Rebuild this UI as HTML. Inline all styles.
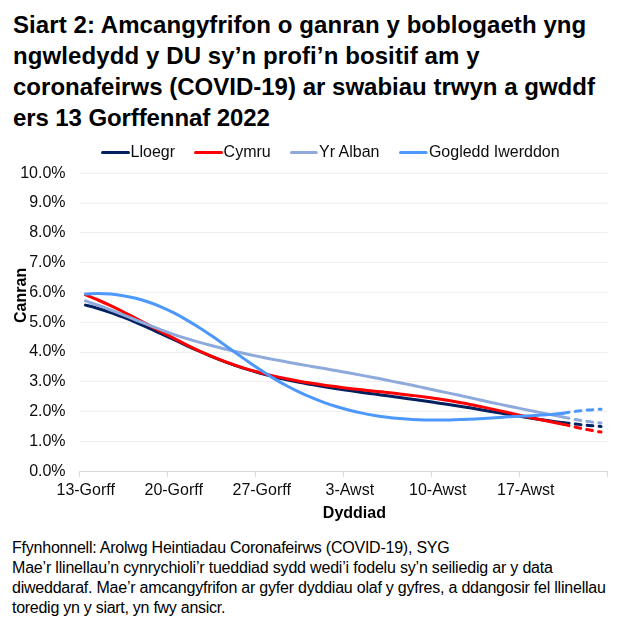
<!DOCTYPE html>
<html><head><meta charset="utf-8"><style>
html,body{margin:0;padding:0;background:#fff;width:623px;height:630px;overflow:hidden}
svg{display:block;position:absolute;left:0;top:0}
.ov{will-change:transform}
text{font-family:"Liberation Sans",sans-serif;fill:#000}
.ti{font-size:24px;font-weight:bold}
.ax{font-size:16px;fill:#0d0d0d}
.axb{font-size:16px;font-weight:bold}
.ft{font-size:16px}
</style></head><body>
<svg width="623" height="630" viewBox="0 0 623 630">
<rect width="623" height="630" fill="#fff"/>
<line x1="79.5" y1="441.5" x2="607.5" y2="441.5" stroke="#EDEDED" stroke-width="1"/>
<line x1="79.5" y1="411.3" x2="607.5" y2="411.3" stroke="#EDEDED" stroke-width="1"/>
<line x1="79.5" y1="381.4" x2="607.5" y2="381.4" stroke="#EDEDED" stroke-width="1"/>
<line x1="79.5" y1="352.4" x2="607.5" y2="352.4" stroke="#EDEDED" stroke-width="1"/>
<line x1="79.5" y1="322.4" x2="607.5" y2="322.4" stroke="#EDEDED" stroke-width="1"/>
<line x1="79.5" y1="292.3" x2="607.5" y2="292.3" stroke="#EDEDED" stroke-width="1"/>
<line x1="79.5" y1="262.3" x2="607.5" y2="262.3" stroke="#EDEDED" stroke-width="1"/>
<line x1="79.5" y1="232.4" x2="607.5" y2="232.4" stroke="#EDEDED" stroke-width="1"/>
<line x1="79.5" y1="203.3" x2="607.5" y2="203.3" stroke="#EDEDED" stroke-width="1"/>
<line x1="79.5" y1="173.3" x2="607.5" y2="173.3" stroke="#EDEDED" stroke-width="1"/>
<line x1="79.5" y1="471.5" x2="607.5" y2="471.5" stroke="#D9D9D9" stroke-width="1"/>
<line x1="79.5" y1="471.5" x2="79.5" y2="476.8" stroke="#D9D9D9" stroke-width="1"/>
<line x1="167.5" y1="471.5" x2="167.5" y2="476.8" stroke="#D9D9D9" stroke-width="1"/>
<line x1="255.5" y1="471.5" x2="255.5" y2="476.8" stroke="#D9D9D9" stroke-width="1"/>
<line x1="343.5" y1="471.5" x2="343.5" y2="476.8" stroke="#D9D9D9" stroke-width="1"/>
<line x1="431.5" y1="471.5" x2="431.5" y2="476.8" stroke="#D9D9D9" stroke-width="1"/>
<line x1="519.5" y1="471.5" x2="519.5" y2="476.8" stroke="#D9D9D9" stroke-width="1"/>
<line x1="607.5" y1="471.5" x2="607.5" y2="476.8" stroke="#D9D9D9" stroke-width="1"/>
<line x1="102.5" y1="152.5" x2="128.5" y2="152.5" stroke="#002060" stroke-width="3" stroke-linecap="round"/>
<line x1="195.5" y1="152.5" x2="221.5" y2="152.5" stroke="#FF0000" stroke-width="3" stroke-linecap="round"/>
<line x1="291.5" y1="152.5" x2="316.2" y2="152.5" stroke="#8EA9DB" stroke-width="3" stroke-linecap="round"/>
<line x1="400.5" y1="152.5" x2="426.1" y2="152.5" stroke="#4C98FC" stroke-width="3" stroke-linecap="round"/>
<path d="M85.49,305.10 C87.58,305.67 93.87,307.27 98.06,308.50 C102.25,309.73 106.44,311.05 110.64,312.50 C114.83,313.95 119.02,315.57 123.21,317.20 C127.40,318.83 131.59,320.53 135.78,322.30 C139.97,324.07 144.17,325.92 148.36,327.80 C152.55,329.68 156.74,331.67 160.93,333.60 C165.12,335.53 169.31,337.45 173.50,339.40 C177.70,341.35 181.89,343.37 186.08,345.30 C190.27,347.23 194.46,349.15 198.65,351.00 C202.84,352.85 207.04,354.67 211.23,356.40 C215.42,358.13 219.61,359.82 223.80,361.40 C227.99,362.98 232.18,364.48 236.38,365.90 C240.57,367.32 244.76,368.63 248.95,369.90 C253.14,371.17 257.33,372.35 261.52,373.50 C265.71,374.65 269.91,375.77 274.10,376.80 C278.29,377.83 282.48,378.78 286.67,379.70 C290.86,380.62 295.05,381.48 299.25,382.30 C303.44,383.12 307.63,383.85 311.82,384.60 C316.01,385.35 320.20,386.10 324.39,386.80 C328.58,387.50 332.78,388.17 336.97,388.80 C341.16,389.43 345.35,390.00 349.54,390.60 C353.73,391.20 357.92,391.82 362.12,392.40 C366.31,392.98 370.50,393.53 374.69,394.10 C378.88,394.67 383.07,395.23 387.26,395.80 C391.45,396.37 395.65,396.92 399.84,397.50 C404.03,398.08 408.22,398.70 412.41,399.30 C416.60,399.90 420.79,400.50 424.98,401.10 C429.18,401.70 433.37,402.28 437.56,402.90 C441.75,403.52 445.94,404.17 450.13,404.80 C454.32,405.43 458.52,406.03 462.71,406.70 C466.90,407.37 471.09,408.10 475.28,408.80 C479.47,409.50 483.66,410.18 487.85,410.90 C492.05,411.62 496.24,412.38 500.43,413.10 C504.62,413.82 508.81,414.50 513.00,415.20 C517.19,415.90 521.39,416.62 525.58,417.30 C529.77,417.98 533.96,418.67 538.15,419.30 C542.34,419.93 546.53,420.53 550.73,421.10 C554.92,421.67 561.20,422.43 563.30,422.70" fill="none" stroke="#002060" stroke-width="3" stroke-linecap="round" stroke-linejoin="round"/>
<path d="M85.49,294.90 C87.58,295.75 93.87,298.20 98.06,300.00 C102.25,301.80 106.44,303.73 110.64,305.70 C114.83,307.67 119.02,309.70 123.21,311.80 C127.40,313.90 131.59,316.12 135.78,318.30 C139.97,320.48 144.17,322.68 148.36,324.90 C152.55,327.12 156.74,329.38 160.93,331.60 C165.12,333.82 169.31,336.03 173.50,338.20 C177.70,340.37 181.89,342.53 186.08,344.60 C190.27,346.67 194.46,348.67 198.65,350.60 C202.84,352.53 207.04,354.43 211.23,356.20 C215.42,357.97 219.61,359.63 223.80,361.20 C227.99,362.77 232.18,364.20 236.38,365.60 C240.57,367.00 244.76,368.37 248.95,369.60 C253.14,370.83 257.33,371.92 261.52,373.00 C265.71,374.08 269.91,375.13 274.10,376.10 C278.29,377.07 282.48,377.95 286.67,378.80 C290.86,379.65 295.05,380.45 299.25,381.20 C303.44,381.95 307.63,382.63 311.82,383.30 C316.01,383.97 320.20,384.62 324.39,385.20 C328.58,385.78 332.78,386.27 336.97,386.80 C341.16,387.33 345.35,387.90 349.54,388.40 C353.73,388.90 357.92,389.33 362.12,389.80 C366.31,390.27 370.50,390.75 374.69,391.20 C378.88,391.65 383.07,392.05 387.26,392.50 C391.45,392.95 395.65,393.42 399.84,393.90 C404.03,394.38 408.22,394.88 412.41,395.40 C416.60,395.92 420.79,396.43 424.98,397.00 C429.18,397.57 433.37,398.17 437.56,398.80 C441.75,399.43 445.94,400.10 450.13,400.80 C454.32,401.50 458.52,402.22 462.71,403.00 C466.90,403.78 471.09,404.65 475.28,405.50 C479.47,406.35 483.66,407.20 487.85,408.10 C492.05,409.00 496.24,409.98 500.43,410.90 C504.62,411.82 508.81,412.68 513.00,413.60 C517.19,414.52 521.39,415.47 525.58,416.40 C529.77,417.33 533.96,418.30 538.15,419.20 C542.34,420.10 546.53,420.95 550.73,421.80 C554.92,422.65 561.20,423.88 563.30,424.30" fill="none" stroke="#FF0000" stroke-width="3" stroke-linecap="round" stroke-linejoin="round"/>
<path d="M85.49,300.80 C87.58,301.53 93.87,303.67 98.06,305.20 C102.25,306.73 106.44,308.38 110.64,310.00 C114.83,311.62 119.02,313.23 123.21,314.90 C127.40,316.57 131.59,318.33 135.78,320.00 C139.97,321.67 144.17,323.27 148.36,324.90 C152.55,326.53 156.74,328.23 160.93,329.80 C165.12,331.37 169.31,332.87 173.50,334.30 C177.70,335.73 181.89,337.10 186.08,338.40 C190.27,339.70 194.46,340.92 198.65,342.10 C202.84,343.28 207.04,344.40 211.23,345.50 C215.42,346.60 219.61,347.67 223.80,348.70 C227.99,349.73 232.18,350.73 236.38,351.70 C240.57,352.67 244.76,353.60 248.95,354.50 C253.14,355.40 257.33,356.25 261.52,357.10 C265.71,357.95 269.91,358.80 274.10,359.60 C278.29,360.40 282.48,361.13 286.67,361.90 C290.86,362.67 295.05,363.45 299.25,364.20 C303.44,364.95 307.63,365.67 311.82,366.40 C316.01,367.13 320.20,367.87 324.39,368.60 C328.58,369.33 332.78,370.07 336.97,370.80 C341.16,371.53 345.35,372.23 349.54,373.00 C353.73,373.77 357.92,374.60 362.12,375.40 C366.31,376.20 370.50,377.00 374.69,377.80 C378.88,378.60 383.07,379.37 387.26,380.20 C391.45,381.03 395.65,381.95 399.84,382.80 C404.03,383.65 408.22,384.43 412.41,385.30 C416.60,386.17 420.79,387.10 424.98,388.00 C429.18,388.90 433.37,389.80 437.56,390.70 C441.75,391.60 445.94,392.50 450.13,393.40 C454.32,394.30 458.52,395.18 462.71,396.10 C466.90,397.02 471.09,397.97 475.28,398.90 C479.47,399.83 483.66,400.78 487.85,401.70 C492.05,402.62 496.24,403.52 500.43,404.40 C504.62,405.28 508.81,406.13 513.00,407.00 C517.19,407.87 521.39,408.75 525.58,409.60 C529.77,410.45 533.96,411.27 538.15,412.10 C542.34,412.93 546.53,413.77 550.73,414.60 C554.92,415.43 561.20,416.68 563.30,417.10" fill="none" stroke="#8EA9DB" stroke-width="3" stroke-linecap="round" stroke-linejoin="round"/>
<path d="M85.49,294.10 C87.58,294.02 93.87,293.60 98.06,293.60 C102.25,293.60 106.44,293.75 110.64,294.10 C114.83,294.45 119.02,295.00 123.21,295.70 C127.40,296.40 131.59,297.25 135.78,298.30 C139.97,299.35 144.17,300.58 148.36,302.00 C152.55,303.42 156.74,305.02 160.93,306.80 C165.12,308.58 169.31,310.57 173.50,312.70 C177.70,314.83 181.89,317.17 186.08,319.60 C190.27,322.03 194.46,324.63 198.65,327.30 C202.84,329.97 207.04,332.75 211.23,335.60 C215.42,338.45 219.61,341.43 223.80,344.40 C227.99,347.37 232.18,350.43 236.38,353.40 C240.57,356.37 244.76,359.33 248.95,362.20 C253.14,365.07 257.33,367.87 261.52,370.60 C265.71,373.33 269.91,376.07 274.10,378.60 C278.29,381.13 282.48,383.55 286.67,385.80 C290.86,388.05 295.05,390.12 299.25,392.10 C303.44,394.08 307.63,395.95 311.82,397.70 C316.01,399.45 320.20,401.10 324.39,402.60 C328.58,404.10 332.78,405.43 336.97,406.70 C341.16,407.97 345.35,409.13 349.54,410.20 C353.73,411.27 357.92,412.23 362.12,413.10 C366.31,413.97 370.50,414.72 374.69,415.40 C378.88,416.08 383.07,416.68 387.26,417.20 C391.45,417.72 395.65,418.13 399.84,418.50 C404.03,418.87 408.22,419.17 412.41,419.40 C416.60,419.63 420.79,419.80 424.98,419.90 C429.18,420.00 433.37,420.00 437.56,420.00 C441.75,420.00 445.94,419.98 450.13,419.90 C454.32,419.82 458.52,419.65 462.71,419.50 C466.90,419.35 471.09,419.20 475.28,419.00 C479.47,418.80 483.66,418.57 487.85,418.30 C492.05,418.03 496.24,417.72 500.43,417.40 C504.62,417.08 508.81,416.63 513.00,416.40 C517.19,416.17 521.39,416.18 525.58,416.00 C529.77,415.82 533.96,415.57 538.15,415.30 C542.34,415.03 546.53,414.73 550.73,414.40 C554.92,414.07 561.20,413.48 563.30,413.30" fill="none" stroke="#4C98FC" stroke-width="3" stroke-linecap="round" stroke-linejoin="round"/>
<path d="M563.30,422.70 C565.39,422.93 571.68,423.65 575.87,424.10 C580.06,424.55 584.26,425.00 588.45,425.40 C592.64,425.80 598.93,426.32 601.02,426.50" fill="none" stroke="#002060" stroke-width="3" stroke-linecap="round" stroke-dasharray="5.8 6.2"/>
<path d="M563.30,424.30 C565.39,424.78 571.68,426.28 575.87,427.20 C580.06,428.12 584.26,428.98 588.45,429.80 C592.64,430.62 598.93,431.72 601.02,432.10" fill="none" stroke="#FF0000" stroke-width="3" stroke-linecap="round" stroke-dasharray="5.8 6.2"/>
<path d="M563.30,417.10 C565.39,417.52 571.68,418.85 575.87,419.60 C580.06,420.35 584.26,421.02 588.45,421.60 C592.64,422.18 598.93,422.85 601.02,423.10" fill="none" stroke="#8EA9DB" stroke-width="3" stroke-linecap="round" stroke-dasharray="5.8 6.2"/>
<path d="M563.30,413.30 C565.39,412.97 571.68,411.85 575.87,411.30 C580.06,410.75 584.26,410.35 588.45,410.00 C592.64,409.65 598.93,409.33 601.02,409.20" fill="none" stroke="#4C98FC" stroke-width="3" stroke-linecap="round" stroke-dasharray="5.8 6.2"/>
<text x="13" y="32.9" class="ti" letter-spacing="0.072">Siart 2: Amcangyfrifon o ganran y boblogaeth yng</text>
<text x="13" y="64.0" class="ti" letter-spacing="0.1">ngwledydd y DU sy’n profi’n bositif am y</text>
<text x="13" y="95.0" class="ti" letter-spacing="0.01">coronafeirws (COVID-19) ar swabiau trwyn a gwddf</text>
<text x="13" y="126.1" class="ti" letter-spacing="-0.095">ers 13 Gorffennaf 2022</text>
<text x="12" y="552.6" class="ft" letter-spacing="-0.226">Ffynhonnell: Arolwg Heintiadau Coronafeirws (COVID-19), SYG</text>
<text x="12" y="572.8" class="ft" letter-spacing="-0.19">Mae’r llinellau’n cynrychioli’r tueddiad sydd wedi’i fodelu sy’n seiliedig ar y data</text>
<text x="12" y="593.0" class="ft" letter-spacing="-0.225">diweddaraf. Mae’r amcangyfrifon ar gyfer dyddiau olaf y gyfres, a ddangosir fel llinellau</text>
<text x="12" y="613.2" class="ft" letter-spacing="-0.27">toredig yn y siart, yn fwy ansicr.</text>
</svg>
<svg class="ov" width="623" height="630" viewBox="0 0 623 630">
<text x="65.6" y="475.6" text-anchor="end" class="ax">0.0%</text>
<text x="65.6" y="445.8" text-anchor="end" class="ax">1.0%</text>
<text x="65.6" y="416.0" text-anchor="end" class="ax">2.0%</text>
<text x="65.6" y="386.2" text-anchor="end" class="ax">3.0%</text>
<text x="65.6" y="356.4" text-anchor="end" class="ax">4.0%</text>
<text x="65.6" y="326.6" text-anchor="end" class="ax">5.0%</text>
<text x="65.6" y="296.8" text-anchor="end" class="ax">6.0%</text>
<text x="65.6" y="267.0" text-anchor="end" class="ax">7.0%</text>
<text x="65.6" y="237.2" text-anchor="end" class="ax">8.0%</text>
<text x="65.6" y="207.4" text-anchor="end" class="ax">9.0%</text>
<text x="65.6" y="177.6" text-anchor="end" class="ax">10.0%</text>
<text x="85.7" y="494.6" text-anchor="middle" class="ax">13-Gorff</text>
<text x="173.7" y="494.6" text-anchor="middle" class="ax">20-Gorff</text>
<text x="261.7" y="494.6" text-anchor="middle" class="ax">27-Gorff</text>
<text x="349.8" y="494.6" text-anchor="middle" class="ax">3-Awst</text>
<text x="437.8" y="494.6" text-anchor="middle" class="ax">10-Awst</text>
<text x="525.8" y="494.6" text-anchor="middle" class="ax">17-Awst</text>
<text x="354.4" y="517.8" text-anchor="middle" class="axb">Dyddiad</text>
<text transform="translate(25.6,295.4) rotate(-90)" x="0" y="0" text-anchor="middle" class="axb">Canran</text>
<text x="130.6" y="156.9" class="ax">Lloegr</text>
<text x="223.6" y="156.9" class="ax">Cymru</text>
<text x="319" y="156.9" class="ax">Yr Alban</text>
<text x="428.9" y="156.9" class="ax">Gogledd Iwerddon</text>
</svg>
</body></html>
